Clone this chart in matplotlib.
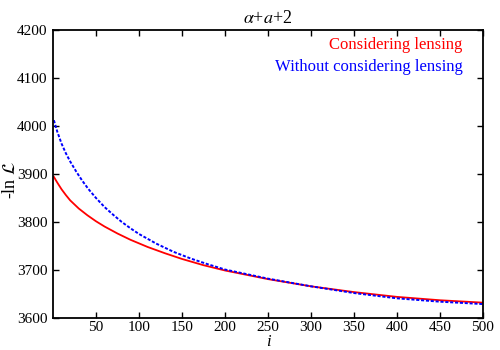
import matplotlib
matplotlib.use("Agg")
import matplotlib.pyplot as plt

i_red = [1, 5, 10, 15, 20, 30, 40, 50, 60, 75, 90, 110, 130, 150, 175, 200, 250, 300, 350, 400, 450, 500]
lnL_red = [3894, 3882, 3868, 3856, 3845, 3828, 3814, 3801.5, 3790.5, 3776, 3763, 3748, 3735, 3723, 3710, 3699, 3681, 3666, 3654, 3644, 3637, 3632]

i_blue = [1, 5, 10, 15, 20, 27, 34, 41, 50, 60, 70, 80, 90, 100, 120, 140, 160, 180, 200, 250, 300, 350, 400, 450, 500]
lnL_blue = [4012, 3988, 3963, 3943, 3926, 3905, 3886, 3869, 3850, 3831, 3815, 3800, 3787, 3775, 3755, 3738, 3724, 3712, 3701, 3682, 3666, 3652, 3641, 3634, 3629]

series_labels = ['Considering lensing', 'Without considering lensing']
xticks = [50, 100, 150, 200, 250, 300, 350, 400, 450, 500]
yticks = [3600, 3700, 3800, 3900, 4000, 4100, 4200]

plt.rcParams['font.family'] = ['Liberation Serif', 'DejaVu Serif']
plt.rcParams['mathtext.fontset'] = 'stix'

fig = plt.figure(figsize=(5, 3.5), dpi=100)
ax = fig.add_axes([0.106, 0.0914, 0.86, 0.823])

colors = ['#ff0000', '#0000ff']
ax.plot(i_red, lnL_red, color=colors[0], lw=1.3)
ax.plot(i_blue, lnL_blue, color=colors[1], lw=1.4, ls=(0, (1.6, 0.9)))

ax.set_xlim(0, 500)
ax.set_ylim(3600, 4200)
ax.set_xticks(xticks)
ax.set_yticks(yticks)
ax.tick_params(direction='in', top=True, right=True, labelsize=11, length=4, width=1)
ax.tick_params(axis='x', pad=2.5)
ax.tick_params(axis='y', pad=4)
for s in ax.spines.values():
    s.set_linewidth(1.3)

ax.set_title(r'$\alpha$+$a$+2', fontsize=13, pad=5)
ax.set_xlabel('i', fontsize=12, style='italic')
ax.xaxis.set_label_coords(0.5, -0.056)
ax.set_ylabel(r'-ln $\mathcal{L}$', fontsize=13)
ax.yaxis.set_label_coords(-0.08, 0.48)

for k, (lab, c) in enumerate(zip(series_labels, colors)):
    ax.text(0.953, 0.948 - 0.076 * k, lab, color=c, fontsize=12, ha='right', va='center',
            transform=ax.transAxes)

fig.savefig('out.png', dpi=100)
